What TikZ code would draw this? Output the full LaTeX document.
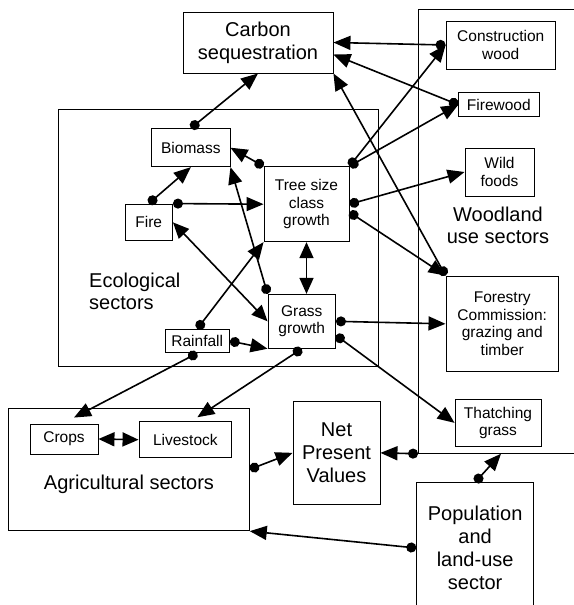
\documentclass[tikz,border=0pt]{standalone}
\usepackage{fontspec}
\setmainfont{Liberation Sans}
\usetikzlibrary{arrows.meta}

\begin{document}
\begin{tikzpicture}[x=1pt, y=-1pt,
  box/.style={draw, line width=0.9pt, inner sep=0pt, align=center, font=\fontsize{15.5}{17.5}\selectfont},
  bigbox/.style={box, font=\fontsize{20}{23}\selectfont},
  sector/.style={draw, line width=0.9pt, inner sep=0pt},
  sectortext/.style={inner sep=0pt, align=center, font=\fontsize{20}{22}\selectfont},
  link/.style={line width=1.6pt, {Circle[length=10pt]}-{Triangle[length=17pt,width=14pt]}},
  twoway/.style={line width=1.6pt, {Triangle[length=16pt,width=14pt]}-{Triangle[length=16pt,width=14pt]}}]
\fill[white] (0,0) rectangle (573,605);
\useasboundingbox (0,0) rectangle (573,605);

\node[sector, minimum width=319.5pt, minimum height=257pt] (eco) at (218.25,237.5) {};
\node[sector, minimum width=165pt, minimum height=444pt] (wood) at (501,231.3) {};
\node[sector, minimum width=241.3pt, minimum height=122.7pt] (agri) at (128.65,469.35) {};

\node[sectortext, anchor=west, align=left] (ecotext) at (89,291.5) {Ecological\\sectors};
\node[sectortext] (woodtext) at (498,225) {Woodland\\use sectors};
\node[sectortext] (agritext) at (129,484) {Agricultural sectors};

\node[bigbox, minimum width=150pt, minimum height=61pt] (carbon) at (258,42.5) {Carbon\\sequestration};
\node[box, minimum width=109.5pt, minimum height=48pt] (construction) at (500.75,45) {Construction\\wood};
\node[box, minimum width=80.3pt, minimum height=24pt] (firewood) at (498.85,104.7) {Firewood};
\node[box, minimum width=69pt, minimum height=48pt] (wild) at (499.5,172) {Wild\\foods};
\node[box, minimum width=112.5pt, minimum height=95.7pt] (forestry) at (502.25,323.85) {Forestry\\Commission:\\grazing and\\timber};
\node[box, minimum width=86pt, minimum height=47.7pt] (thatching) at (498,422.85) {Thatching\\grass};
\node[box, minimum width=78.3pt, minimum height=38pt] (biomass) at (190.85,147.7) {Biomass};
\node[box, minimum width=85pt, minimum height=75pt] (tree) at (306.5,204.2) {Tree size\\class\\growth};
\node[box, minimum width=47.5pt, minimum height=36.7pt] (fire) at (148.75,222.35) {Fire};
\node[box, minimum width=67.5pt, minimum height=54pt] (grass) at (301.75,321.3) {Grass\\growth};
\node[box, minimum width=64.5pt, minimum height=23.4pt] (rainfall) at (197.25,341) {Rainfall};
\node[box, minimum width=68pt, minimum height=30pt] (crops) at (64,439) {Crops};
\node[box, minimum width=92.7pt, minimum height=36pt] (livestock) at (185.35,439.7) {Livestock};
\node[bigbox, minimum width=87pt, minimum height=102.3pt] (npv) at (336.5,452.85) {Net\\Present\\Values};
\node[bigbox, minimum width=116.9pt, minimum height=130.6pt] (pop) at (475.15,548) {Population\\and\\land-use\\sector};

\draw[link] (biomass.north) -- (carbon.south);
\draw[link] (construction.west) -- (carbon.east);
\draw[link] (firewood.west) -- ([yshift=-12pt]carbon.east);
\draw[link] (forestry.north west) -- (carbon.south east);
\draw[link] (tree.north east) -- (construction.west);
\draw[link] (tree.north east) -- (firewood.west);
\draw[link] (tree.east) -- (wild.west);
\draw[link] ([yshift=-8pt]tree.east) -- (forestry.north west);
\draw[link] (tree.north west) -- (biomass.east);
\draw[link] (fire.north) -- (biomass.south);
\draw[link] (fire.north east) -- (tree.west);
\draw[link] (grass.north west) -- (biomass.south east);
\draw[link] (rainfall.north) -- (tree.south west);
\draw[twoway] (fire.east) -- (grass.west);
\draw[twoway] (tree.south) -- (tree.south |- grass.north);
\draw[link] (rainfall.east) -- (grass.south west);
\draw[link] (grass.east) -- (forestry.west);
\draw[link] ([yshift=-14pt]grass.east) -- (thatching.west);
\draw[link] (rainfall.south) -- ([shift={(10,-6)}]crops.north);
\draw[link] (grass.south) -- ([shift={(12,-4)}]livestock.north);
\draw[twoway] (crops.east) -- (livestock.west);
\draw[link] (agri.east) -- (npv.west);
\draw[link] (wood.south west) -- (npv.east);
\draw[link] (pop.north) -- (wood.south);
\draw[link] (pop.west) -- (agri.south east);
\end{tikzpicture}
\end{document}
